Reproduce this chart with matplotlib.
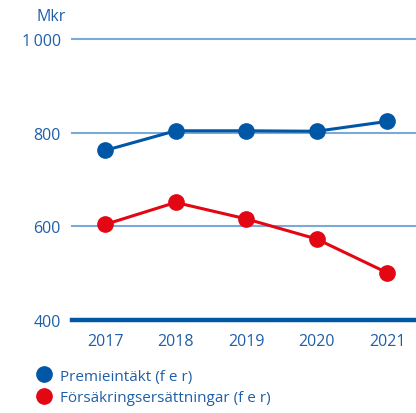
import matplotlib.pyplot as plt
from matplotlib.lines import Line2D

years = [2017, 2018, 2019, 2020, 2021]
premie = [762, 804, 804, 803, 824]
ersattningar = [604, 651, 616, 573, 501]
yticks = [400, 600, 800, 1000]
ytick_labels = ['400', '600', '800', '1\u2009000']

plt.rcParams['font.family'] = ['Open Sans', 'DejaVu Sans']

text_c = '#1f5fa8'
blue = '#0057a6'
red = '#e30613'
grid_c = '#7aaad8'

fig = plt.figure(figsize=(4.16, 4.14), dpi=100)
ax = fig.add_axes([0.173, 0.2246, 0.827, 0.6788])

ax.plot(years, premie, color=blue, lw=2.2, marker='o', ms=11, clip_on=False, zorder=4)
ax.plot(years, ersattningar, color=red, lw=2.2, marker='o', ms=11, clip_on=False, zorder=4)

ax.set_xlim(2016.53, 2021.41)
ax.set_ylim(400, 1000)
# light grid lines, heavy base line at 400
for y in yticks[1:]:
    ax.axhline(y, color=grid_c, lw=1.5, zorder=1, clip_on=False)
ax.axhline(400, color=blue, lw=3.2, zorder=2, clip_on=False)

for s in ax.spines.values():
    s.set_visible(False)
ax.set_xticks(years)
ax.set_xticklabels([str(y) for y in years])
ax.set_yticks(yticks)
ax.set_yticklabels(ytick_labels)
ax.tick_params(length=0, labelsize=11.5, colors=text_c)
ax.tick_params(axis='y', pad=8)
ax.tick_params(axis='x', pad=9)

fig.text(0.087, 0.96, 'Mkr', color=text_c, fontsize=11.5, ha='left', va='center')

handles = [Line2D([], [], color=blue, marker='o', ls='none', ms=11),
           Line2D([], [], color=red, marker='o', ls='none', ms=11)]
leg = fig.legend(handles, ['Premieintäkt (f e r)', 'Försäkringsersättningar (f e r)'],
                 loc='upper left', bbox_to_anchor=(0.07, 0.122), frameon=False,
                 fontsize=11, labelcolor=text_c, handletextpad=0.45, labelspacing=0.45,
                 handlelength=1.2, borderaxespad=0)

fig.savefig('out.png', dpi=100)
